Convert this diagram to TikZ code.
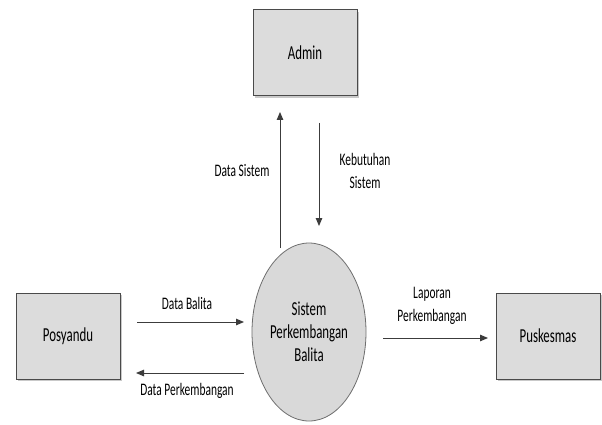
\documentclass[tikz,border=0pt]{standalone}
\usepackage{fontspec}
\setmainfont{Carlito}[FakeStretch=0.65]
\usetikzlibrary{arrows.meta,shapes.geometric,shadows}
\definecolor{boxfill}{HTML}{DCDCDC}
\definecolor{boxline}{HTML}{4A4A4A}
\definecolor{arrowcol}{HTML}{3C3C3C}
\definecolor{ellfill}{HTML}{D9D9D9}
\definecolor{ellline}{HTML}{6E6E6E}
\begin{document}
\begin{tikzpicture}[x=1pt,y=-1pt,
  entity/.style={draw=boxline,line width=1pt,fill=boxfill,minimum width=104pt,minimum height=86pt,inner sep=0pt,font=\fontsize{19.8}{23}\selectfont,
    drop shadow={shadow xshift=2pt,shadow yshift=-2pt,fill=black!35,opacity=0.6}},
  proc/.style={ellipse,draw=ellline,line width=0.8pt,fill=ellfill,minimum width=114pt,minimum height=178pt,inner sep=0pt,align=center,font=\fontsize{19.8}{23}\selectfont},
  flow/.style={draw=arrowcol,line width=1pt,-{Triangle[length=8pt,width=6.5pt]}},
  lbl/.style={font=\fontsize{17.6}{22.5}\selectfont,align=center,inner sep=0pt}]
\useasboundingbox (0,0) rectangle (602,425);
\fill[white] (0,0) rectangle (602,425);
\node[entity] (admin) at (305,53) {Admin};
\node[entity] (pos) at (68,336) {Posyandu};
\node[entity] (pus) at (548,336) {Puskesmas};
\node[proc] (sys) at (309,332) {Sistem\\Perkembangan\\Balita};
\coordinate (dsA) at (280,248);
\coordinate (dsB) at (280,112);
\coordinate (kbA) at (319,123);
\coordinate (kbB) at (319,226);
\coordinate (dbA) at (137,322);
\coordinate (dbB) at (244,322);
\coordinate (dpA) at (244,373);
\coordinate (dpB) at (136,373);
\coordinate (lpA) at (383,338);
\coordinate (lpB) at (488,338);
\draw[flow] (dsA) -- (dsB);
\draw[flow] (kbA) -- (kbB);
\draw[flow] (dbA) -- (dbB);
\draw[flow] (dpA) -- (dpB);
\draw[flow] (lpA) -- (lpB);
\node[lbl] (l1) at (242,171) {Data Sistem};
\node[lbl] (l2) at (365,171) {Kebutuhan\\Sistem};
\node[lbl] (l3) at (187,303) {Data Balita};
\node[lbl] (l4) at (187,391) {Data Perkembangan};
\node[lbl] (l5) at (432,306) {Laporan\\Perkembangan};
\end{tikzpicture}
\end{document}
